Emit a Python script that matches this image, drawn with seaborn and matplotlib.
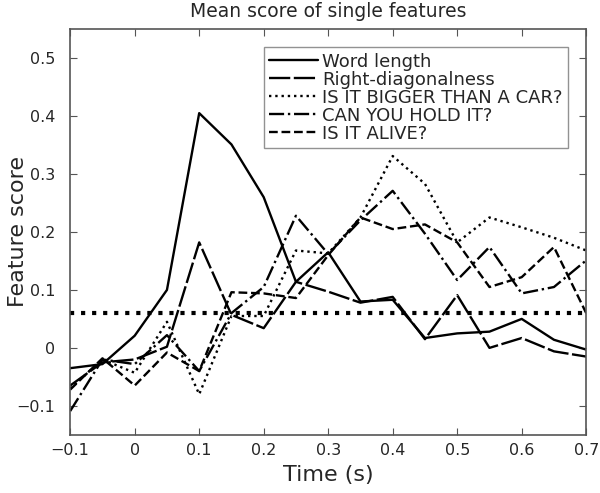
import numpy as np
import pandas as pd
import matplotlib
matplotlib.use('Agg')
import matplotlib.pyplot as plt
import seaborn as sns

sns.set_style('ticks')
plt.rcParams['font.family'] = ['DejaVu Sans']

# datos
time = [-0.1, -0.05, 0.0, 0.05, 0.1, 0.15, 0.2, 0.25, 0.3, 0.35, 0.4, 0.45, 0.5, 0.55, 0.6, 0.65, 0.7]
word_length = [-0.035, -0.028, 0.021, 0.100, 0.405, 0.351, 0.260, 0.114, 0.165, 0.080, 0.083, 0.017, 0.025, 0.028, 0.050, 0.014, -0.003]
right_diag = [-0.065, -0.025, -0.020, 0.002, 0.182, 0.057, 0.034, 0.114, 0.097, 0.078, 0.088, 0.015, 0.091, 0.000, 0.017, -0.006, -0.015]
bigger_car = [-0.070, -0.020, -0.043, 0.045, -0.080, 0.055, 0.055, 0.168, 0.163, 0.225, 0.331, 0.283, 0.182, 0.225, 0.208, 0.190, 0.168]
hold_it = [-0.109, -0.020, -0.028, 0.022, -0.040, 0.060, 0.105, 0.228, 0.162, 0.220, 0.271, 0.197, 0.117, 0.174, 0.094, 0.105, 0.151]
alive = [-0.072, -0.018, -0.065, -0.008, -0.040, 0.096, 0.094, 0.086, 0.160, 0.225, 0.205, 0.213, 0.182, 0.105, 0.122, 0.174, 0.060]
threshold = 0.06

labels = ['Word length', 'Right-diagonalness', 'IS IT BIGGER THAN A CAR?', 'CAN YOU HOLD IT?', 'IS IT ALIVE?']
series = [word_length, right_diag, bigger_car, hold_it, alive]
styles = ['-', (0, (9, 1.5)), ':', '-.', '--']

fig = plt.figure(figsize=(6, 4.93), dpi=100)
ax = fig.add_axes([0.117, 0.118, 0.86, 0.823])

for lab, vals, ls in zip(labels, series, styles):
    sns.lineplot(x=time, y=vals, ax=ax, color='black', linewidth=1.7, linestyle=ls, label=lab)

ax.axhline(threshold, color='black', linestyle=':', linewidth=3)

ax.set_xlim(-0.1, 0.7)
ax.set_ylim(-0.15, 0.55)
ax.set_xticks(np.arange(-0.1, 0.71, 0.1))
ax.set_xticklabels(['\u22120.1', '0', '0.1', '0.2', '0.3', '0.4', '0.5', '0.6', '0.7'])
ax.set_yticks([-0.1, 0, 0.1, 0.2, 0.3, 0.4, 0.5])
ax.set_yticklabels(['\u22120.1', '0', '0.1', '0.2', '0.3', '0.4', '0.5'])
ax.tick_params(direction='in', top=True, right=True, labelsize=11.5, length=5, color='#555555')
ax.tick_params(axis='x', pad=6)
ax.tick_params(axis='y', pad=10.5)
for s in ax.spines.values():
    s.set_color('#555555')
    s.set_linewidth(1.2)

ax.set_title('Mean score of single features', fontsize=13.5, pad=9)
ax.set_xlabel('Time (s)', fontsize=16, labelpad=5)
ax.set_ylabel('Feature score', fontsize=16)
ax.yaxis.set_label_coords(-0.082, 0.5)

leg = ax.legend(loc='upper right', fontsize=13, handlelength=2.7, handletextpad=0.25,
                labelspacing=0.0, borderpad=0.3, borderaxespad=1.0, fancybox=False)
leg.get_frame().set_edgecolor('#777777')
leg.get_frame().set_linewidth(1.0)

plt.savefig('out.png', dpi=100)
